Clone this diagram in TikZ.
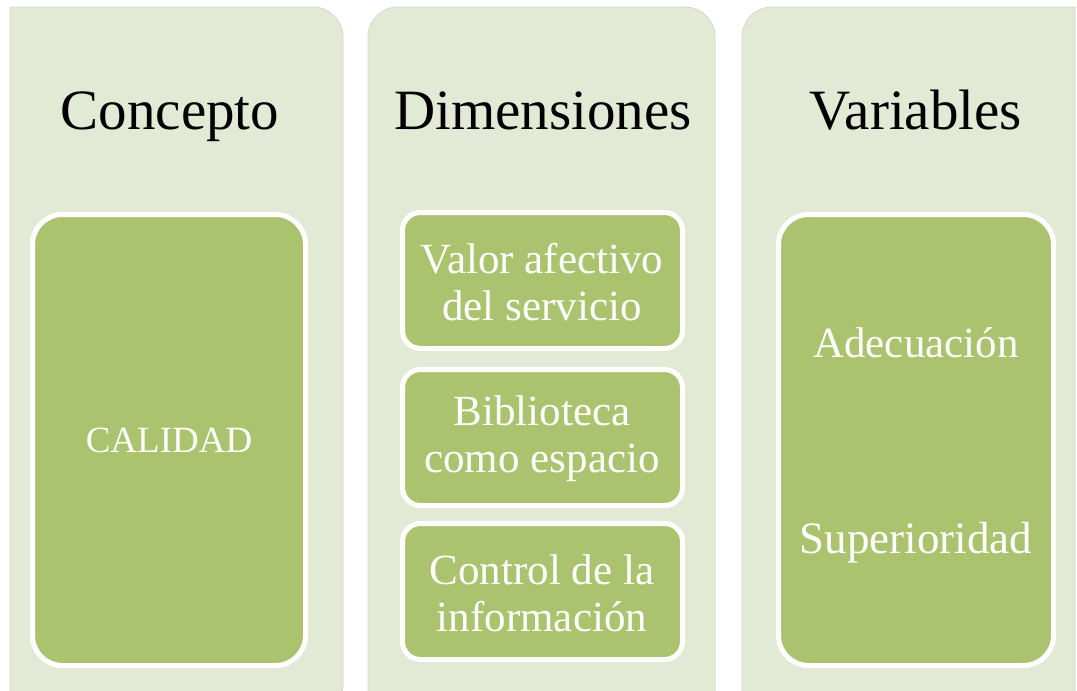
\documentclass[tikz,border=0pt]{standalone}
\usepackage{fontspec}
\setmainfont{Liberation Serif}
\definecolor{colbg}{HTML}{E2EAD6}
\definecolor{boxgreen}{HTML}{ABC36E}
\definecolor{coledge}{HTML}{D3D8CC}
\begin{document}
\begin{tikzpicture}[x=1pt,y=-1pt,
  column/.style={fill=colbg,draw=coledge,line width=0.8pt},
  title/.style={font=\fontsize{57}{60}\selectfont,text=black,anchor=base},
  greenbox/.style={fill=boxgreen,draw=white,line width=5pt},
  boxtext/.style={font=\fontsize{43}{47}\selectfont,text=white,align=center,anchor=center}]
\useasboundingbox (0,0) rectangle (1077,691);
\clip (0,0) rectangle (1077,691);
% columns
\path[column] (10,715) -- (10,7) {[rounded corners=30pt] -- (343,7) -- (343,715)} -- cycle;
\path[column] (368,715) {[rounded corners=30pt] -- (368,7) -- (715,7)} -- (715,715) -- cycle;
\path[column] (742,715) {[rounded corners=30pt] -- (742,7)} -- (1075,7) -- (1075,715) -- cycle;
% titles
\node[title] (t1) at (170,129) {Concepto};
\node[title] (t2) at (543,129) {Dimensiones};
\node[title] (t3) at (916,129) {Variables};
% boxes
\draw[greenbox,rounded corners=30pt] (32.5,214.5) rectangle (305.5,665.5);
\node[boxtext,font=\fontsize{37}{44}\selectfont] (c1) at (169,440) {CALIDAD};
\draw[greenbox,rounded corners=18pt] (402.5,212.5) rectangle (682.5,348.5);
\node[boxtext] (d1) at (542,282) {Valor afectivo\\del servicio};
\draw[greenbox,rounded corners=18pt] (402.5,369.5) rectangle (682.5,505.5);
\node[boxtext] (d2) at (542,439) {Biblioteca\\como espacio};
\draw[greenbox,rounded corners=18pt] (402.5,523.5) rectangle (682.5,659.5);
\node[boxtext] (d3) at (542,593) {Control de la\\información};
\draw[greenbox,rounded corners=30pt] (778.5,214.5) rectangle (1053.5,665.5);
\node[boxtext] (v1) at (916,343) {Adecuación};
\node[boxtext,font=\fontsize{45}{47}\selectfont] (v2) at (916,543) {Superioridad};
\end{tikzpicture}
\end{document}
